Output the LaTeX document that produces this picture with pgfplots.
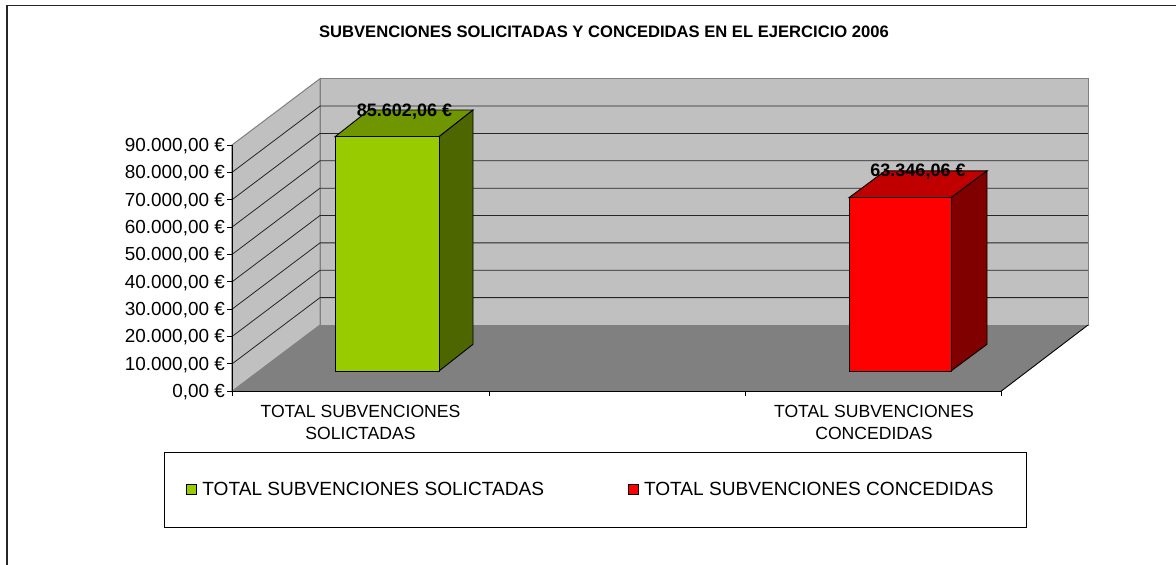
\documentclass[border=0pt]{standalone}
\usepackage{pgfplots}
\pgfplotsset{compat=1.18}
\usepackage{fontspec}
\setmainfont{Liberation Sans}
\definecolor{wallc}{HTML}{C0C0C0}
\definecolor{floorc}{HTML}{808080}
\definecolor{gface}{HTML}{99CC00}
\definecolor{gtop}{HTML}{6F9500}
\definecolor{gside}{HTML}{4D6600}
\definecolor{rface}{HTML}{FF0000}
\definecolor{rtop}{HTML}{C00000}
\definecolor{rside}{HTML}{800000}
\newcommand{\fs}[2]{\fontsize{#1pt}{#2pt}\selectfont}
\begin{document}
\begin{tikzpicture}[x=1pt,y=1pt]
\begin{axis}[
  at={(0pt,0pt)},anchor=origin,
  scale only axis,width=769pt,height=246.3pt,
  xmin=232,xmax=1001,ymin=0,ymax=90000,
  scaled y ticks=false,
  clip=false,axis on top,
  axis lines=left,x axis line style={-},y axis line style={-},
  axis line style={black,line width=0.9pt},
  tick style={black,line width=0.9pt},
  tick align=outside,major tick length=5pt,
  unbounded coords=jump,
  ytick={0,10000,20000,30000,40000,50000,60000,70000,80000,90000},
  yticklabels={{0,00 €},{10.000,00 €},{20.000,00 €},{30.000,00 €},{40.000,00 €},{50.000,00 €},{60.000,00 €},{70.000,00 €},{80.000,00 €},{90.000,00 €}},
  yticklabel style={font=\fs{18.9}{19},inner sep=0pt,xshift=-2pt,yshift=-1pt},
  xtick={232,489,745,1001},
  xticklabels={},
  extra x ticks={360.5,874},
  extra x tick labels={{TOTAL SUBVENCIONES\\SOLICTADAS},{TOTAL SUBVENCIONES\\CONCEDIDAS}},
  extra x tick style={major tick length=0pt,tick label style={font=\fs{17.6}{22},align=center,inner sep=0pt,yshift=-14pt}},
  legend columns=2,
  legend cell align=left,
  legend image code/.code={\draw[#1,line width=0.9pt,draw=black] (0pt,-5pt) rectangle (10pt,5pt);},
  legend style={at={(axis cs:164,-22180)},anchor=north west,draw=black,line width=0.9pt,
    inner xsep=22pt,inner ysep=28pt,font=\fs{19.1}{19},
    /tikz/every even column/.append style={column sep=82pt}},
]
% frame
\addplot[forget plot,black!85,line width=1.1pt] coordinates {(7,-63600)(7,140970)(1176,140970)};
% left wall, back wall, floor
\addplot[forget plot,fill=wallc,draw=floorc,line width=1pt] coordinates {(232,0)(320,24226)(320,114226)(232,90000)} --cycle;
\addplot[forget plot,fill=wallc,draw=floorc,line width=1pt] coordinates {(320,24226)(1088,24226)(1088,114226)(320,114226)} --cycle;
\addplot[forget plot,fill=floorc,draw=none] coordinates {(232,0)(320,24226)(1088,24226)(1001,0)} --cycle;
\addplot[forget plot,black,line width=0.9pt] coordinates {(1001,0)(1088,24226)};
% gridlines
\addplot[forget plot,black!85,line width=0.8pt] table {
x y
232 10000
320 34226
1088 34226
nan nan
232 20000
320 44226
1088 44226
nan nan
232 30000
320 54226
1088 54226
nan nan
232 40000
320 64226
1088 64226
nan nan
232 50000
320 74226
1088 74226
nan nan
232 60000
320 84226
1088 84226
nan nan
232 70000
320 94226
1088 94226
nan nan
232 80000
320 104226
1088 104226
};
% green bar
\addplot[forget plot,fill=gtop,draw=black,line width=0.9pt] coordinates {(335,93020)(369,102776)(473,102776)(439,93020)} --cycle;
\addplot[forget plot,fill=gside,draw=black,line width=0.9pt] coordinates {(439,7418)(473,17174)(473,102776)(439,93020)} --cycle;
% red bar
\addplot[forget plot,fill=rtop,draw=black,line width=0.9pt] coordinates {(849,70764)(885,80520)(987,80520)(951,70764)} --cycle;
\addplot[forget plot,fill=rside,draw=black,line width=0.9pt] coordinates {(951,7418)(987,17174)(987,80520)(951,70764)} --cycle;
% faces (legend entries)
\addplot[fill=gface,draw=black,line width=0.9pt] coordinates {(335,7418)(439,7418)(439,93020)(335,93020)} --cycle;
\addlegendentry{\hspace{3pt}TOTAL SUBVENCIONES SOLICTADAS}
\addplot[fill=rface,draw=black,line width=0.9pt] coordinates {(849,7418)(951,7418)(951,70764)(849,70764)} --cycle;
\addlegendentry{\hspace{3pt}TOTAL SUBVENCIONES CONCEDIDAS\rule{9pt}{0pt}}
% texts
\node[font=\fs{16.6}{20}\bfseries] at (axis cs:604,131290) {SUBVENCIONES SOLICITADAS Y CONCEDIDAS EN EL EJERCICIO 2006};
\node[font=\fs{18}{20}\bfseries] at (axis cs:404.5,102237) {85.602,06 €};
\node[font=\fs{18}{20}\bfseries] at (axis cs:918,80423) {63.346,06 €};
\end{axis}
\pgfresetboundingbox
\useasboundingbox (-232pt,-173.7pt) rectangle (944pt,391.3pt);
\end{tikzpicture}
\end{document}
